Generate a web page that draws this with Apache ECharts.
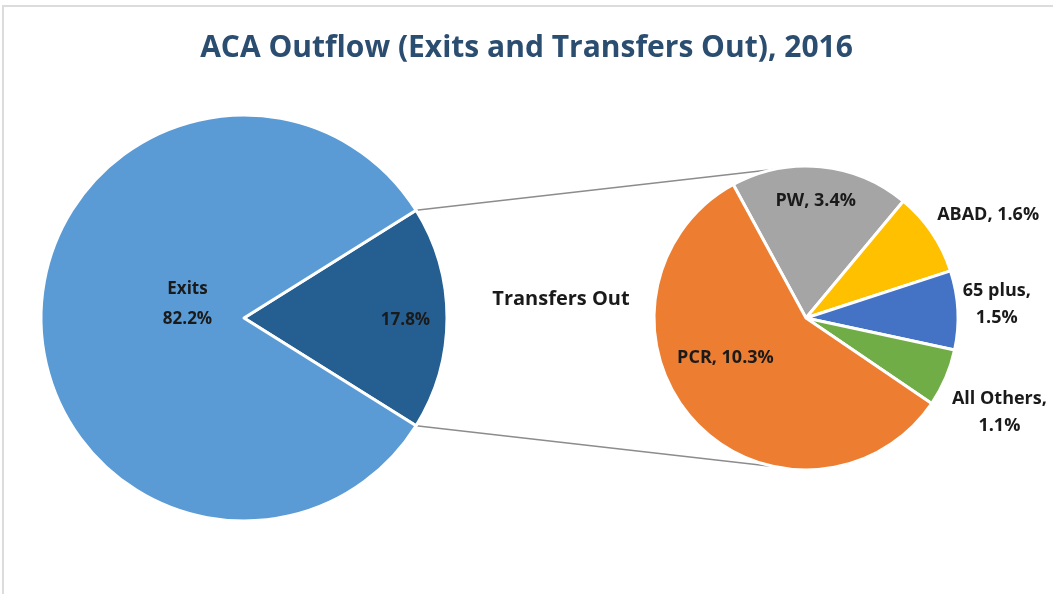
<!DOCTYPE html>
<html>
<head>
<meta charset="utf-8">
<script src="https://cdn.jsdelivr.net/npm/echarts@6/dist/echarts.min.js"></script>
<style>
html,body{margin:0;padding:0;background:#fff;}
#chart{width:1053px;height:594px;}
</style>
</head>
<body>
<div id="chart"></div>
<script>
// ---- data ----
const titleText = 'ACA Outflow (Exits and Transfers Out), 2016';
const mainCats = ['Transfers Out', 'Exits'];
const mainVals = [17.8, 82.2];
const subCats = ['PW', 'ABAD', '65 plus', 'All Others', 'PCR'];
const subVals = [3.4, 1.6, 1.5, 1.1, 10.3];

// ---- layout ----
const C1 = [244, 318], R1 = 203;
const C2 = [806, 318], R2 = 152;
const FONT = '"Open Sans", "Noto Sans", sans-serif';

const mainColors = ['#255e91', '#5b9bd5'];
const subColors = ['#a5a5a5', '#ffc000', '#4472c4', '#70ad47', '#ed7d31'];

const mainTotal = mainVals.reduce((a, b) => a + b, 0);
const halfAngle = mainVals[0] / mainTotal * 360 / 2; // degrees

// connector end points
const rad = halfAngle * Math.PI / 180;
const p1Top = [C1[0] + R1 * Math.cos(rad), C1[1] - R1 * Math.sin(rad)];
const p1Bot = [C1[0] + R1 * Math.cos(rad), C1[1] + R1 * Math.sin(rad)];
const a2 = 12.5 * Math.PI / 180;
const p2Top = [C2[0] - R2 * Math.sin(a2), C2[1] - R2 * Math.cos(a2)];
const p2Bot = [C2[0] - R2 * Math.sin(a2), C2[1] + R2 * Math.cos(a2)];

const labelBase = { fontFamily: FONT, fontWeight: 'bold', fontSize: 17, color: '#1a1a1a', overflow: 'none' };

const mainData = mainCats.map((n, i) => {
  const d = { name: n, value: mainVals[i], itemStyle: { color: mainColors[i] } };
  if (n === 'Exits') {
    d.label = Object.assign({}, labelBase, { position: 'inside', formatter: '{b}\n{c}%', offset: [48, -14], lineHeight: 30 });
  } else {
    d.label = Object.assign({}, labelBase, { position: 'inside', formatter: '{c}%', offset: [57, 2] });
  }
  return d;
});

const subLabelCfg = {
  'PW': { position: 'inside', formatter: '{b}, {c}%', offset: [2, -39] },
  'PCR': { position: 'inside', formatter: '{b}, {c}%', offset: [-22, -13] },
  'ABAD': { position: 'outside', formatter: '{b}, {c}%' },
  '65 plus': { position: 'outside', formatter: '{b},\n{c}%' },
  'All Others': { position: 'outside', formatter: '{b},\n{c}%' }
};
// fine placement of the outside labels (relative shifts)
const subLabelShift = {
  'ABAD': { dx: -3, dy: -16 },
  '65 plus': { align: 'center', dx: 30, dy: -6 },
  'All Others': { align: 'center', dx: 45, dy: 33 }
};

const subData = subCats.map((n, i) => ({
  name: n,
  value: subVals[i],
  itemStyle: { color: subColors[i] },
  label: Object.assign({}, labelBase, { fontSize: 18, lineHeight: 27 }, subLabelCfg[n])
}));

const chart = echarts.init(document.getElementById('chart'), null, { renderer: 'canvas' });
chart.setOption({
  backgroundColor: '#ffffff',
  animation: false,
  title: {
    text: titleText,
    left: 'center',
    top: 28,
    textStyle: { fontFamily: FONT, fontWeight: 'bold', fontSize: 30, color: '#2b4d70' }
  },
  graphic: [
    { type: 'rect', shape: { x: 3, y: 6, width: 1100, height: 620 }, style: { fill: 'none', stroke: '#dcdcdc', lineWidth: 2 }, z: 0 },
    { type: 'line', shape: { x1: p1Top[0], y1: p1Top[1], x2: p2Top[0], y2: p2Top[1] }, style: { stroke: '#8c8c8c', lineWidth: 1.5 }, z: 1 },
    { type: 'line', shape: { x1: p1Bot[0], y1: p1Bot[1], x2: p2Bot[0], y2: p2Bot[1] }, style: { stroke: '#8c8c8c', lineWidth: 1.5 }, z: 1 },
    { type: 'text', style: { text: mainCats[0], x: 561, y: 299, align: 'center', verticalAlign: 'middle', font: 'bold 20px ' + FONT, fill: '#1a1a1a' }, z: 5 }
  ],
  series: [
    {
      type: 'pie',
      center: C1,
      radius: [0, R1],
      startAngle: halfAngle,
      clockwise: true,
      data: mainData,
      itemStyle: { borderColor: '#ffffff', borderWidth: 3 },
      labelLine: { show: false },
      emphasis: { disabled: true }
    },
    {
      type: 'pie',
      center: C2,
      radius: [0, R2],
      startAngle: 90 + 28.6,
      clockwise: true,
      data: subData,
      itemStyle: { borderColor: '#ffffff', borderWidth: 3 },
      label: { overflow: 'none', edgeDistance: 0 },
      labelLine: { show: false, length: 4, length2: 0 },
      labelLayout: function (params) {
        const s = subLabelShift[subCats[params.dataIndex]];
        return s ? Object.assign({}, s) : {};
      },
      emphasis: { disabled: true }
    }
  ]
});
</script>
</body>
</html>
